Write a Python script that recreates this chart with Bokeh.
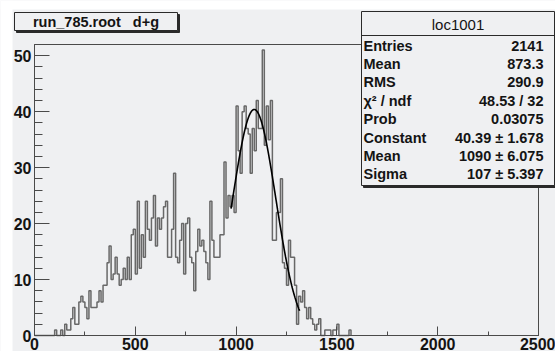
import numpy as np
from bokeh.plotting import figure
from bokeh.models import Range1d, SingleIntervalTicker, Label, BoxAnnotation
from bokeh.embed import file_html
from bokeh.resources import INLINE

# ---------------- data ----------------
bin_width = 10
counts = [
    0, 0, 0, 0, 0, 0, 0, 0, 0, 0,
    1, 0, 0, 1, 0, 2, 1, 1, 3, 5,
    2, 2, 6, 7, 6, 5, 3, 8, 5, 5,
    5, 6, 8, 6, 9, 9, 13, 16, 10, 11,
    14, 11, 9, 10, 12, 10, 14, 10, 18, 19,
    11, 24, 12, 18, 14, 24, 19, 17, 21, 25,
    16, 21, 19, 21, 23, 24, 14, 14, 19, 29,
    14, 13, 17, 20, 11, 20, 21, 14, 13, 8,
    15, 19, 16, 17, 15, 13, 10, 24, 17, 14,
    14, 14, 18, 18, 31, 21, 25, 23, 25, 22,
    41, 33, 29, 40, 41, 37, 36, 29, 37, 33,
    42, 37, 37, 51, 34, 41, 35, 42, 17, 17,
    22, 22, 28, 13, 12, 9, 17, 14, 14, 9,
    2, 7, 6, 8, 5, 3, 5, 3, 2, 1,
    2, 3, 0, 0, 1, 1, 1, 0, 1, 1,
    2, 0, 0, 0, 0, 0, 1,
]
title_text = "run_785.root\u00a0\u00a0\u00a0d+g"
stats_title = "loc1001"
stat_names = ["Entries", "Mean", "RMS", "\u03c7\u00b2 / ndf", "Prob", "Constant", "Mean", "Sigma"]
stat_values = ["2141", "873.3", "290.9", "48.53 / 32", "0.03075",
               "40.39 \u00b1 1.678", "1090 \u00b1 6.075", "107 \u00b1 5.397"]
fit_constant = 40.39
fit_mean = 1090.0
fit_sigma = 107.0
fit_range = [975, 1315]
x_limits = [0, 2500]
y_limits = [0, 52]

# ---------------- layout (pixels) ----------------
W, H = 555, 351                      # canvas size
FL, FR, FT, FB = 34, 538, 44, 335    # ROOT frame box inside canvas (px)

sx = (FR - FL) / (x_limits[1] - x_limits[0])
sy = (FB - FT) / (y_limits[1] - y_limits[0])
x_rng = Range1d(x_limits[0] - FL / sx, x_limits[1] + (W - FR) / sx)
y_rng = Range1d(y_limits[0] - (H - FB) / sy, y_limits[1] + FT / sy)

BG = "#eff0f2"
AX = "#4a4a4a"
TXT = "#141414"
FONT = "Liberation Sans"

p = figure(width=W, height=H, x_range=x_rng, y_range=y_rng,
           output_backend="svg", toolbar_location=None,
           min_border=0, min_border_left=0, min_border_right=0,
           min_border_top=0, min_border_bottom=0,
           background_fill_color=BG, border_fill_color=BG,
           outline_line_color=None)
p.grid.visible = False

p.xaxis.ticker = SingleIntervalTicker(interval=500, num_minor_ticks=2)
p.yaxis.ticker = SingleIntervalTicker(interval=10, num_minor_ticks=5)
p.xaxis.fixed_location = y_limits[0]
p.yaxis.fixed_location = x_limits[0]
p.xaxis.bounds = tuple(x_limits)
p.yaxis.bounds = tuple(y_limits)
for ax in (p.xaxis[0], p.yaxis[0]):
    ax.axis_line_color = AX
    ax.major_tick_line_color = AX
    ax.minor_tick_line_color = AX
    ax.major_tick_out = 0
    ax.minor_tick_out = 0
    ax.major_label_text_font = FONT
    ax.major_label_text_font_style = "bold"
    ax.major_label_text_font_size = "16px"
    ax.major_label_text_color = TXT
p.xaxis.major_tick_in = 9
p.xaxis.minor_tick_in = 4
p.yaxis.major_tick_in = 15
p.yaxis.minor_tick_in = 8
p.yaxis.major_label_standoff = 3
p.xaxis.major_label_standoff = 2

# ROOT frame box
p.quad(left=[x_limits[0]], right=[x_limits[1]], bottom=[y_limits[0]], top=[y_limits[1]],
       fill_alpha=0, line_color=AX, line_width=1)

# histogram outline
edges = np.arange(len(counts) + 1) * bin_width
ys = list(counts) + [0]
p.step(edges, ys, mode="after", line_color="#686868", line_width=1.5)

# gaussian fit
fx = np.linspace(fit_range[0], fit_range[1], 300)
fy = fit_constant * np.exp(-0.5 * ((fx - fit_mean) / fit_sigma) ** 2)
p.line(fx, fy, line_color="black", line_width=1.6)


# ---------------- boxes and texts (screen px: x from left, y up from bottom) ----------------
def box(l, r, t, b, fill, line, lw=1):
    return BoxAnnotation(left=l, right=r, top=t, bottom=b,
                         left_units="screen", right_units="screen",
                         top_units="screen", bottom_units="screen",
                         fill_color=fill, fill_alpha=1.0,
                         line_color=line, line_width=lw,
                         line_alpha=1.0 if line else 0.0)


def label(x, y, text, align, bold=True, size="14.5px"):
    return Label(x=x, y=y, x_units="screen", y_units="screen", text=text,
                 text_align=align, text_baseline="middle", text_font=FONT,
                 text_font_style="bold" if bold else "normal",
                 text_font_size=size, text_color=TXT)


# white page strips (left and top)
p.add_layout(box(0, 12, H, 0, "white", None))
p.add_layout(box(0, W, H, H - 9, "white", None))

# title box
p.add_layout(box(16, 179, 337, 319, "#2a2a2a", "#2a2a2a"))
p.add_layout(box(14, 177, 339, 321, BG, "#2a2a2a"))
p.add_layout(label(95.5, 330, title_text, "center"))

# stats box
p.add_layout(box(363, 557, 338, 164, "#2a2a2a", "#2a2a2a"))
p.add_layout(box(361, 554, 340, 166, BG, "#2a2a2a"))
p.add_layout(box(361, 554, 316, 316, BG, "#2a2a2a"))
p.add_layout(label(457.5, 327, stats_title, "center", bold=False, size="15px"))
row_top = 306.0
row_step = 18.4
for i, (name, val) in enumerate(zip(stat_names, stat_values)):
    yy = row_top - i * row_step
    p.add_layout(label(363, yy, name, "left"))
    p.add_layout(label(543, yy, val, "right"))

open("out.html", "w").write(file_html(p, INLINE))
